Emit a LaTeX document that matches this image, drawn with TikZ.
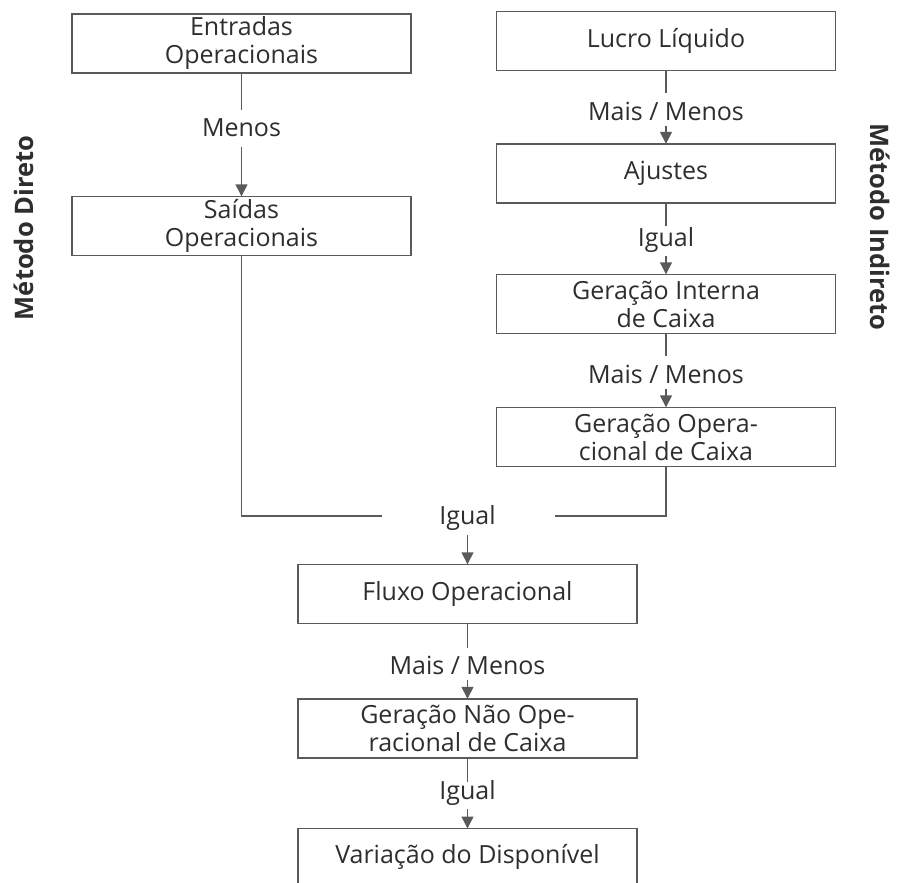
\documentclass[tikz,border=0pt]{standalone}
\usepackage{fontspec}
\setmainfont{Open Sans}
\usetikzlibrary{arrows.meta}
\definecolor{txt}{HTML}{2E2E2E}
\definecolor{ln}{HTML}{5A5A5A}
\begin{document}
\begin{tikzpicture}[x=1pt,y=-1pt,
  box/.style={draw=ln,line width=1.4pt,minimum width=339pt,minimum height=59pt,inner sep=0pt,align=center,text=txt,font=\fontsize{25}{28}\selectfont},
  lbl/.style={text=txt,font=\fontsize{25}{28}\selectfont,inner sep=2pt},
  side/.style={text=txt,font=\fontsize{25.5}{28}\selectfont\bfseries},
  conn/.style={draw=ln,line width=1.4pt},
  arr/.style={conn,-{Triangle[length=12pt,width=12pt]},shorten >=-0.5pt}]
\useasboundingbox (0,0) rectangle (898,883);
% left column
\node[box] (entradas) at (241.5,43.5) {Entradas\\Operacionais};
\node[box] (saidas) at (241.5,226) {Saídas\\Operacionais};
% right column
\node[box] (lucro) at (666,41) {Lucro Líquido};
\node[box] (ajustes) at (666,173.5) {Ajustes};
\node[box] (interna) at (666,304) {Geração Interna\\de Caixa};
\node[box] (operac) at (666,437) {Geração Opera-\\cional de Caixa};
% bottom column
\node[box] (fluxo) at (467.5,594) {Fluxo Operacional};
\node[box] (naoop) at (467.5,728.5) {Geração Não Ope-\\racional de Caixa};
\node[box,anchor=north,minimum height=70pt] (variacao) at (467.5,828) {};
\node[text=txt,font=\fontsize{25}{28}\selectfont] (vtext) at (467.5,857) {Variação do Disponível};
% labels
\node[lbl] (l1) at (241.5,128) {Menos};
\node[lbl] (l2) at (666,111) {Mais / Menos};
\node[lbl] (l3) at (666,240) {Igual};
\node[lbl] (l4) at (666,374) {Mais / Menos};
\node[lbl] (l5) at (467.5,518) {Igual};
\node[lbl] (l6) at (467.5,665) {Mais / Menos};
\node[lbl] (l7) at (467.5,793) {Igual};
% side titles
\node[side,rotate=90] (md) at (24,228) {Método Direto};
\node[side,rotate=-90] (mi) at (880,227) {Método Indireto};
% connectors
\coordinate (jl) at (382,516);
\coordinate (jr) at (555,516);
\coordinate (ja) at (467.5,535);
\draw[conn] (entradas.south) -- ++(0,36);
\draw[arr] (241.5,147) -- (saidas.north);
\draw[conn] (lucro.south) -- ++(0,22);
\draw[arr] (666,126) -- (ajustes.north);
\draw[conn] (ajustes.south) -- ++(0,22);
\draw[arr] (666,256) -- (interna.north);
\draw[conn] (interna.south) -- ++(0,22);
\draw[arr] (666,389) -- (operac.north);
\draw[conn] (saidas.south) |- (jl);
\draw[conn] (operac.south) |- (jr);
\draw[arr] (ja) -- (fluxo.north);
\draw[conn] (fluxo.south) -- ++(0,24);
\draw[arr] (467.5,680) -- (naoop.north);
\draw[conn] (naoop.south) -- ++(0,23);
\draw[arr] (467.5,809) -- (variacao.north);
\end{tikzpicture}
\end{document}
